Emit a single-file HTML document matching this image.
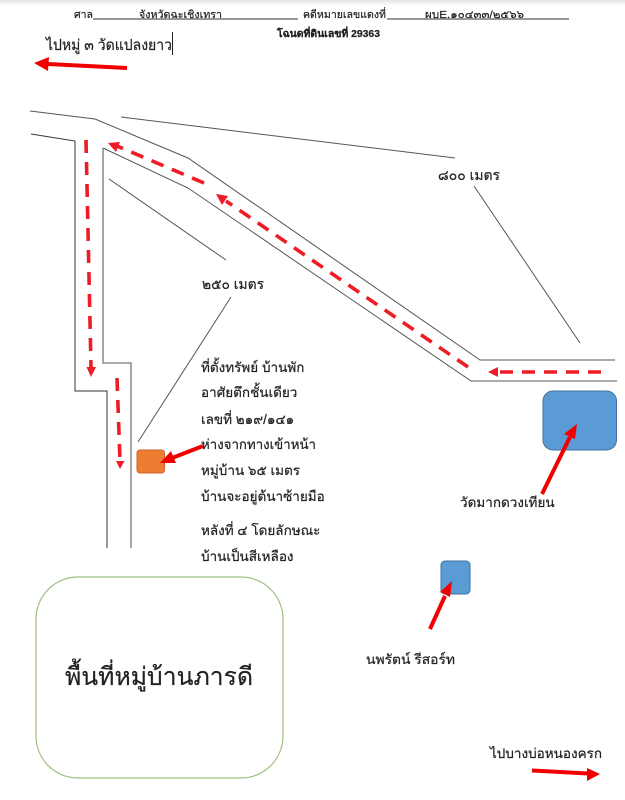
<!DOCTYPE html>
<html><head><meta charset="utf-8">
<style>
html,body{margin:0;padding:0;background:#fff;}
body{width:625px;height:800px;overflow:hidden;position:relative;}
svg{position:absolute;left:0;top:0;}
text{font-family:"Liberation Sans","Noto Sans CJK SC",sans-serif;fill:#222;stroke:#222;stroke-width:.2;}
</style></head><body>
<svg width="625" height="800" viewBox="0 0 625 800" xmlns="http://www.w3.org/2000/svg">
<defs><linearGradient id="g" x1="0" y1="0" x2="0" y2="1"><stop offset="0" stop-color="#e4e4e4"/><stop offset="1" stop-color="#fff"/></linearGradient></defs>
<rect x="0" y="0" width="625" height="6" fill="url(#g)"/>

<!-- header -->
<text x="74" y="18" font-size="10.5">ศาล</text>
<text x="139" y="18" font-size="10.5" textLength="83" lengthAdjust="spacingAndGlyphs">จังหวัดฉะเชิงเทรา</text>
<line x1="93" y1="19" x2="298" y2="19" stroke="#333" stroke-width="1"/>
<text x="303" y="18" font-size="10.5" textLength="83" lengthAdjust="spacingAndGlyphs">คดีหมายเลขแดงที่</text>
<text x="425" y="18" font-size="10.5" textLength="99" lengthAdjust="spacingAndGlyphs">ผบE.๑๐๔๓๓/๒๕๖๖</text>
<line x1="387" y1="19" x2="569" y2="19" stroke="#333" stroke-width="1"/>
<text x="277" y="37" font-size="10" font-weight="bold" textLength="103" lengthAdjust="spacingAndGlyphs">โฉนดที่ดินเลขที่ 29363</text>
<text x="46" y="50" font-size="15" textLength="126" lengthAdjust="spacingAndGlyphs">ไปหมู่ ๓ วัดแปลงยาว</text>
<line x1="172.500" y1="32" x2="172.500" y2="55" stroke="#222" stroke-width="1"/>

<!-- roads -->
<g fill="none" stroke="#555" stroke-width="1">
<polyline points="30,111 95,119 188,158 480,360 615,360"/>
<polyline points="31,134 75,141 75,391 107,391 107,548" stroke="#333"/>
<polyline points="103,148 188,188 471,381 617,381"/>
<polyline points="103,148 103,363 131,363 131,548" stroke="#777" stroke-width="1.300"/>
<line x1="121" y1="117" x2="455" y2="158"/>
<line x1="109" y1="179" x2="226" y2="260"/>
<line x1="474" y1="186" x2="580" y2="343"/>
<line x1="138" y1="442" x2="231" y2="297"/>
</g>

<!-- dashed red routes -->
<g fill="none" stroke="#ee1c25" stroke-width="3.600" stroke-dasharray="13 9">
<line x1="86" y1="140" x2="91" y2="367"/>
<line x1="117" y1="378" x2="120" y2="461"/>
<line x1="204" y1="183" x2="117" y2="146"/>
<line x1="468" y1="367" x2="226" y2="201"/>
<line x1="601" y1="372" x2="498" y2="372"/>
</g>
<g fill="#ee1c25">
<polygon points="86.500,367 96,367 91,377"/>
<polygon points="116,461 124.500,461 120,469"/>
<polygon points="108,143 120,142 116,152"/>
<polygon points="216,194 228,196 222,205"/>
<polygon points="488,372 498,367 498,377"/>
</g>

<!-- shapes -->
<rect x="137" y="450" width="27.500" height="23" rx="3" fill="#ed7d31" stroke="#d2602a" stroke-width="1"/>
<rect x="543" y="391" width="73.500" height="59" rx="10" fill="#5b9bd5" stroke="#41719c" stroke-width="1"/>
<rect x="441" y="561" width="29" height="33" rx="4" fill="#5b9bd5" stroke="#41719c" stroke-width="1"/>
<rect x="36" y="577" width="247" height="201" rx="42" fill="#fff" stroke="#9dc183" stroke-width="1.200"/>

<!-- solid arrows -->
<g stroke="#f00000" stroke-width="4" fill="none">
<line x1="127" y1="68" x2="48" y2="64"/>
<line x1="203" y1="446" x2="172" y2="458"/>
<line x1="542" y1="494" x2="570" y2="437"/>
<line x1="430" y1="629" x2="445" y2="596"/>
<line x1="532" y1="770.500" x2="588" y2="773.500"/>
</g>
<g fill="#f00000">
<polygon points="34,63 49,57 48,71"/>
<polygon points="160,463 171,451 176,463"/>
<polygon points="577,424 575,439 564,434"/>
<polygon points="452,581 450,597 440,592"/>
<polygon points="600,774 587,781 587,768"/>
</g>

<!-- labels -->
<text x="438" y="180" font-size="14" textLength="62" lengthAdjust="spacingAndGlyphs">๘๐๐ เมตร</text>
<text x="202" y="289" font-size="14" textLength="62" lengthAdjust="spacingAndGlyphs">๒๕๐ เมตร</text>
<g font-size="13.500">
<text x="201" y="372">ที่ตั้งทรัพย์ บ้านพัก</text>
<text x="201" y="397">อาศัยตึกชั้นเดียว</text>
<text x="201" y="424">เลขที่ ๒๑๙/๑๔๑</text>
<text x="201" y="449" textLength="115" lengthAdjust="spacingAndGlyphs">ห่างจากทางเข้าหน้า</text>
<text x="201" y="475">หมู่บ้าน ๖๕ เมตร</text>
<text x="201" y="501">บ้านจะอยู่ต้นาซ้ายมือ</text>
<text x="201" y="535">หลังที่ ๔ โดยลักษณะ</text>
<text x="201" y="561">บ้านเป็นสีเหลือง</text>
<text x="460" y="507">วัดมากดวงเทียน</text>
<text x="366" y="664" textLength="89" lengthAdjust="spacingAndGlyphs">นพรัตน์ รีสอร์ท</text>
<text x="490" y="758">ไปบางบ่อหนองครก</text>
</g>
<text x="65" y="685" font-size="25" textLength="188" lengthAdjust="spacingAndGlyphs">พื้นที่หมู่บ้านภารดี</text>
</svg>
</body></html>
